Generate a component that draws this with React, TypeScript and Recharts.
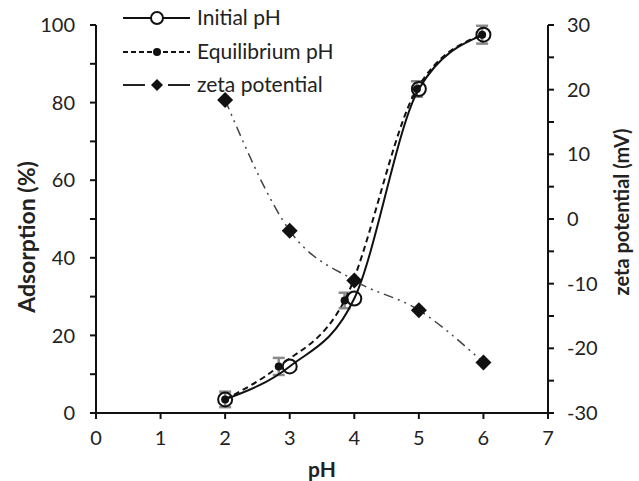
import React from 'react';
import { LineChart, Line, XAxis, YAxis, ErrorBar } from 'recharts';

// adsorption vs pH, with zeta potential on the right axis
const initialPH = [2, 3, 4, 5, 6];
const initialAds = [3.5, 12, 29.5, 83.5, 97.5];

const equilibriumPH = [2, 2.83, 3.85, 4.97, 5.98];
const equilibriumAds = [3.5, 12, 29, 83.5, 97.5];
const equilibriumErr = [2, 2.2, 2, 2, 2.3];

const zetaPH = [2, 3, 4, 5, 6];
const zetaMV = [18.4, -1.8, -9.5, -14.1, -22.2];

const xTicks = [0, 1, 2, 3, 4, 5, 6, 7];
const leftTicks = [0, 10, 20, 30, 40, 50, 60, 70, 80, 90, 100];
const rightTicks = [-30, -25, -20, -15, -10, -5, 0, 5, 10, 15, 20, 25, 30];
const seriesNames = ['Initial pH', 'Equilibrium pH', 'zeta potential'];

const initialData = initialPH.map((x, i) => ({ x, y: initialAds[i] }));
const equilibriumData = equilibriumPH.map((x, i) => ({ x, y: equilibriumAds[i], err: equilibriumErr[i] }));
const zetaData = zetaPH.map((x, i) => ({ x, z: zetaMV[i] }));

const FONT = 'Lato, "Open Sans", sans-serif';
const TXT = '#222';
const tickStyle = { fill: TXT, fontSize: 20, fontFamily: FONT };

const OpenCircle = (p: any) => (
  <circle key={`oc-${p.index}`} cx={p.cx} cy={p.cy} r={7} fill="none" stroke="#111" strokeWidth={2} />
);
const SmallDot = (p: any) => <circle key={`sd-${p.index}`} cx={p.cx} cy={p.cy} r={4} fill="#111" />;
const Diamond = (p: any) => (
  <path
    key={`dm-${p.index}`}
    d={`M${p.cx},${p.cy - 8} L${p.cx + 8},${p.cy} L${p.cx},${p.cy + 8} L${p.cx - 8},${p.cy} Z`}
    fill="#111"
  />
);

const Legend = () => {
  const rows = [18, 52, 85];
  return (
    <svg width={639} height={110} style={{ position: 'absolute', left: 0, top: 0, pointerEvents: 'none' }}>
      <line x1={123} x2={190} y1={rows[0]} y2={rows[0]} stroke="#111" strokeWidth={2} />
      <circle cx={157} cy={rows[0]} r={6} fill="#fff" stroke="#111" strokeWidth={2} />
      <line x1={123} x2={190} y1={rows[1]} y2={rows[1]} stroke="#111" strokeWidth={2} strokeDasharray="5 3" />
      <circle cx={157} cy={rows[1]} r={4} fill="#111" />
      <line x1={123} x2={145} y1={rows[2]} y2={rows[2]} stroke="#222" strokeWidth={2} />
      <line x1={168} x2={190} y1={rows[2]} y2={rows[2]} stroke="#222" strokeWidth={2} />
      <path d={`M157,${rows[2] - 6} L163,${rows[2]} L157,${rows[2] + 6} L151,${rows[2]} Z`} fill="#111" />
      {seriesNames.map((n, i) => (
        <text key={n} x={197} y={rows[i] + 7} fill={TXT} fontSize={21} fontFamily={FONT}>
          {n}
        </text>
      ))}
    </svg>
  );
};

export default function App() {
  return (
    <div style={{ position: 'absolute', left: 0, top: 0, width: 639, height: 481, background: '#fff' }}>
      <LineChart width={639} height={481} margin={{ top: 25, right: 0, bottom: 0, left: 0 }}>
        <XAxis
          type="number"
          dataKey="x"
          domain={[0, 7]}
          ticks={xTicks}
          interval={0}
          tickSize={6}
          tickMargin={12}
          height={68}
          axisLine={{ stroke: '#111', strokeWidth: 2 }}
          tickLine={{ stroke: '#111', strokeWidth: 2 }}
          tick={tickStyle}
          label={{
            content: (p: any) => (
              <text x={p.viewBox.x + p.viewBox.width / 2} y={p.viewBox.y + 64} textAnchor="middle" fill={TXT} fontSize={21} fontWeight="bold" fontFamily={FONT}>
                pH
              </text>
            ),
          }}
        />
        <YAxis
          yAxisId="left"
          type="number"
          domain={[0, 100]}
          ticks={leftTicks}
          interval={0}
          width={96}
          tickSize={6}
          tickMargin={15}
          tickFormatter={(v: number) => (v % 20 === 0 ? String(v) : '')}
          axisLine={{ stroke: '#111', strokeWidth: 2 }}
          tickLine={{ stroke: '#111', strokeWidth: 2 }}
          tick={tickStyle}
          label={{
            content: (p: any) => {
              const cx = p.viewBox.x + 26;
              const cy = p.viewBox.y + p.viewBox.height / 2 + 18;
              return (
                <text x={cx} y={cy} transform={`rotate(-90 ${cx} ${cy})`} textAnchor="middle" dominantBaseline="central" fill={TXT} fontSize={23} fontWeight="bold" fontFamily={FONT}>
                  Adsorption (%)
                </text>
              );
            },
          }}
        />
        <YAxis
          yAxisId="right"
          orientation="right"
          type="number"
          domain={[-30, 30]}
          ticks={rightTicks}
          interval={0}
          width={91}
          tickSize={6}
          tickMargin={13}
          tickFormatter={(v: number) => (v % 10 === 0 ? String(v) : '')}
          axisLine={{ stroke: '#111', strokeWidth: 2 }}
          tickLine={{ stroke: '#111', strokeWidth: 2 }}
          tick={tickStyle}
          label={{
            content: (p: any) => {
              const cx = p.viewBox.x + 73;
              const cy = p.viewBox.y + p.viewBox.height / 2 - 7;
              return (
                <text x={cx} y={cy} transform={`rotate(-90 ${cx} ${cy})`} textAnchor="middle" dominantBaseline="central" fill={TXT} fontSize={20} fontWeight="bold" fontFamily={FONT}>
                  zeta potential (mV)
                </text>
              );
            },
          }}
        />
        <Line
          yAxisId="left"
          data={equilibriumData}
          dataKey="y"
          name={seriesNames[1]}
          type="monotone"
          stroke="#111"
          strokeWidth={2}
          strokeDasharray="6 4"
          dot={SmallDot}
          isAnimationActive={false}
        >
          <ErrorBar dataKey="err" direction="y" width={6} stroke="#8a8a8a" strokeWidth={2.5} />
        </Line>
        <Line
          yAxisId="left"
          data={initialData}
          dataKey="y"
          name={seriesNames[0]}
          type="monotone"
          stroke="#111"
          strokeWidth={2}
          dot={OpenCircle}
          isAnimationActive={false}
        />
        <Line
          yAxisId="right"
          data={zetaData}
          dataKey="z"
          name={seriesNames[2]}
          type="monotone"
          stroke="#444"
          strokeWidth={1.5}
          strokeDasharray="10 5 2 5 2 5"
          dot={Diamond}
          isAnimationActive={false}
        />
      </LineChart>
      <Legend />
    </div>
  );
}
